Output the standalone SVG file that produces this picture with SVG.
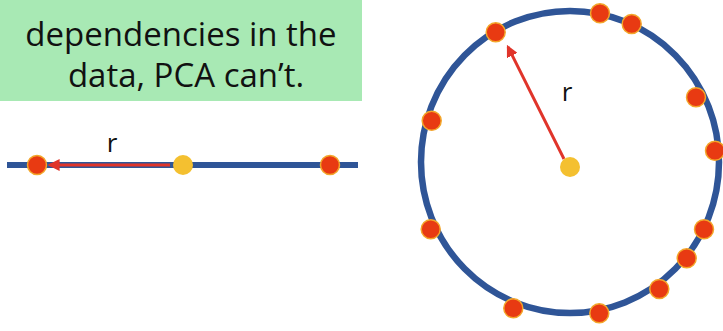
<svg xmlns="http://www.w3.org/2000/svg" width="723" height="331" viewBox="0 0 723 331">
<style>
.txt{font-family:"Open Sans","Liberation Sans",sans-serif;fill:#111}
.dot{fill:#e83a12;stroke:#f3a62a;stroke-width:1.5}
.ctr{fill:#f4c030}
.blue{stroke:#2f5597;fill:none}
.arr{stroke:#e0342a;stroke-width:3;fill:none}
</style>
<defs>
<marker id="ah" viewBox="0 0 10 10" refX="8" refY="5" markerWidth="4" markerHeight="4" orient="auto">
<path d="M0,0 L10,5 L0,10 z" fill="#e0342a"/>
</marker>
</defs>
<rect width="723" height="331" fill="#fff"/>
<g id="callout">
<rect x="0" y="0" width="362" height="101" fill="#a8e9b4"/>
<text class="txt" x="181" y="46" font-size="33" text-anchor="middle">dependencies in the</text>
<text class="txt" x="186" y="87" font-size="33" text-anchor="middle">data, PCA can’t.</text>
</g>
<g id="line-plot">
<line class="blue" x1="7" y1="165" x2="358" y2="165" stroke-width="6"/>
<line class="arr" x1="170" y1="165" x2="50" y2="165" marker-end="url(#ah)"/>
<circle class="dot" cx="37" cy="165" r="9.5"/>
<circle class="ctr" cx="183" cy="165" r="10"/>
<circle class="dot" cx="330" cy="165" r="9.5"/>
<text class="txt" x="112" y="152" font-size="26" text-anchor="middle">r</text>
</g>
<g id="circle-plot">
<ellipse class="blue" cx="570" cy="162" rx="149" ry="151" stroke-width="6.5"/>
<line class="arr" x1="564" y1="159" x2="508" y2="47" marker-end="url(#ah)"/>
<circle class="ctr" cx="570" cy="167" r="10"/>
<text class="txt" x="567" y="101" font-size="26" text-anchor="middle">r</text>
<circle class="dot" cx="495.7" cy="32.3" r="9.5"/>
<circle class="dot" cx="600" cy="13.3" r="9.5"/>
<circle class="dot" cx="631.7" cy="24" r="9.5"/>
<circle class="dot" cx="696" cy="97.3" r="9.5"/>
<circle class="dot" cx="715" cy="150.7" r="9.5"/>
<circle class="dot" cx="431.7" cy="120.7" r="9.5"/>
<circle class="dot" cx="430.7" cy="229.3" r="9.5"/>
<circle class="dot" cx="704" cy="229.3" r="9.5"/>
<circle class="dot" cx="686.7" cy="258.3" r="9.5"/>
<circle class="dot" cx="659.3" cy="289" r="9.5"/>
<circle class="dot" cx="513.3" cy="308.3" r="9.5"/>
<circle class="dot" cx="599.3" cy="313.3" r="9.5"/>
</g>
</svg>
